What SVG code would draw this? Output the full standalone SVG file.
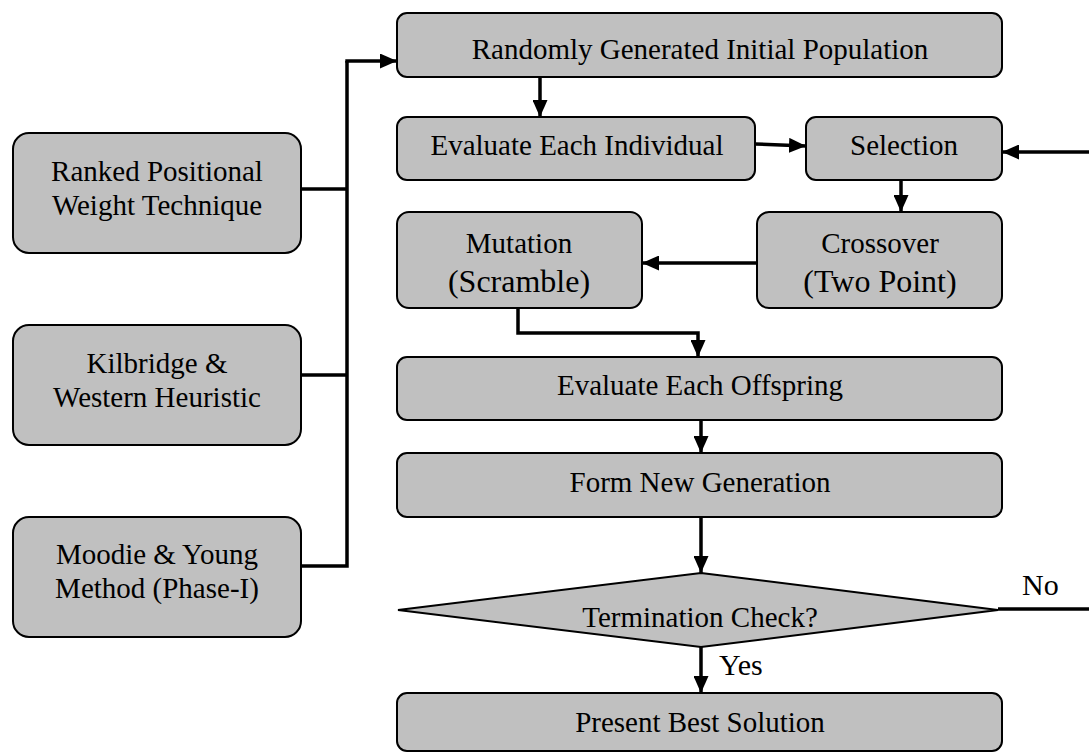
<svg xmlns="http://www.w3.org/2000/svg" width="1089" height="753" viewBox="0 0 1089 753">
  <style>
    .box { fill: #c0c0c0; stroke: #000; stroke-width: 2; }
    .lbl { font-family: "Liberation Serif", "Times New Roman", serif; font-size: 29px; fill: #000; text-anchor: middle; }
    .big { font-size: 32px; }
    .side { font-family: "Liberation Serif", "Times New Roman", serif; font-size: 30px; fill: #000; }
    .wire { fill: none; stroke: #000; stroke-width: 3.5; }
  </style>
  <defs>
    <marker id="arrow" viewBox="0 0 17 15" refX="17" refY="7.5" markerWidth="17" markerHeight="15" markerUnits="userSpaceOnUse" orient="auto">
      <path d="M0,0 L17,7.5 L0,15 z" fill="#000"/>
    </marker>
  </defs>

  <rect width="1089" height="753" fill="#fff"/>

  <!-- seeding heuristics -->
  <g id="rpw">
    <rect class="box" x="13" y="133" width="288" height="120" rx="16"/>
    <text class="lbl" x="157" y="181">Ranked Positional</text>
    <text class="lbl" x="157" y="215">Weight Technique</text>
  </g>
  <g id="kw">
    <rect class="box" x="13" y="325" width="288" height="120" rx="16"/>
    <text class="lbl" x="157" y="373">Kilbridge &amp;</text>
    <text class="lbl" x="157" y="407">Western Heuristic</text>
  </g>
  <g id="my">
    <rect class="box" x="13" y="517" width="288" height="120" rx="16"/>
    <text class="lbl" x="157" y="564">Moodie &amp; Young</text>
    <text class="lbl" x="157" y="598">Method (Phase-I)</text>
  </g>

  <!-- GA loop -->
  <g id="init">
    <rect class="box" x="397" y="13" width="605" height="64" rx="10"/>
    <text class="lbl" x="700" y="59">Randomly Generated Initial Population</text>
  </g>
  <g id="eval-ind">
    <rect class="box" x="397" y="117" width="358" height="63" rx="10"/>
    <text class="lbl" x="577" y="155">Evaluate Each Individual</text>
  </g>
  <g id="selection">
    <rect class="box" x="806" y="117" width="196" height="63" rx="10"/>
    <text class="lbl" x="904" y="155">Selection</text>
  </g>
  <g id="crossover">
    <rect class="box" x="757" y="212" width="245" height="96" rx="12"/>
    <text class="lbl" x="880" y="253">Crossover</text>
    <text class="lbl big" x="880" y="292">(Two Point)</text>
  </g>
  <g id="mutation">
    <rect class="box" x="397" y="212" width="245" height="96" rx="12"/>
    <text class="lbl" x="519" y="253">Mutation</text>
    <text class="lbl big" x="519" y="292">(Scramble)</text>
  </g>
  <g id="eval-off">
    <rect class="box" x="397" y="357" width="605" height="63" rx="10"/>
    <text class="lbl" x="700" y="395">Evaluate Each Offspring</text>
  </g>
  <g id="new-gen">
    <rect class="box" x="397" y="453" width="605" height="64" rx="10"/>
    <text class="lbl" x="700" y="492">Form New Generation</text>
  </g>
  <g id="check">
    <polygon class="box" points="701,573 998,610 701,647 398,610"/>
    <text class="lbl" x="700" y="627" font-size="30">Termination Check?</text>
  </g>
  <g id="best">
    <rect class="box" x="397" y="693" width="605" height="58" rx="10"/>
    <text class="lbl" x="700" y="732" font-size="30">Present Best Solution</text>
  </g>

  <!-- connectors -->
  <g id="connectors">
    <path class="wire" d="M301,189 H347"/>
    <path class="wire" d="M301,375 H347"/>
    <path class="wire" d="M301,566 H347 V61"/>
    <path class="wire" d="M345.3,61 H397" marker-end="url(#arrow)"/>
    <path class="wire" d="M540,77 V117" marker-end="url(#arrow)"/>
    <path class="wire" d="M755,144 L806,146" marker-end="url(#arrow)"/>
    <path class="wire" d="M1089,152 H1002" marker-end="url(#arrow)"/>
    <path class="wire" d="M901,180 V212" marker-end="url(#arrow)"/>
    <path class="wire" d="M757,263 H642" marker-end="url(#arrow)"/>
    <path class="wire" d="M518,308 V333 H698 V357" marker-end="url(#arrow)"/>
    <path class="wire" d="M701,420 V453" marker-end="url(#arrow)"/>
    <path class="wire" d="M701,517 V573" marker-end="url(#arrow)"/>
    <path class="wire" d="M701,647 V693" marker-end="url(#arrow)"/>
    <path class="wire" d="M998,609 H1089"/>
    <text class="side" x="719" y="675">Yes</text>
    <text class="side" x="1022" y="595">No</text>
  </g>
</svg>
